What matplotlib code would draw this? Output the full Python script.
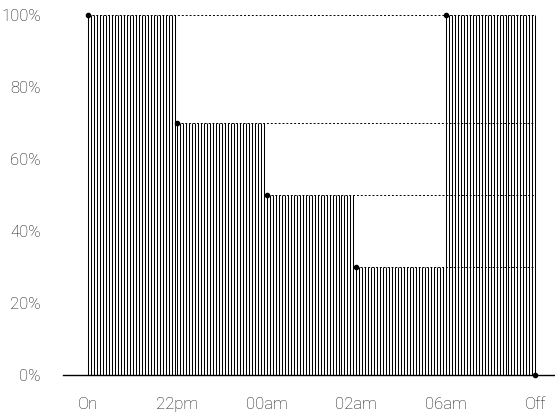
import numpy as np
import matplotlib.pyplot as plt

plt.rcParams['font.family'] = ['Roboto', 'DejaVu Sans']

labels = ["On", "22pm", "00am", "02am", "06am", "Off"]
levels = [100, 70, 50, 30, 100, 0]
yticks = [0, 20, 40, 60, 80, 100]

fig = plt.figure(figsize=(5.55, 4.17), dpi=100)
ax = fig.add_axes([0.1135, 0.1007, 0.8865, 0.8633])

x = np.arange(len(labels))

# vertical hatching under the step curve
xs = np.linspace(0, len(labels) - 1, 30 * (len(labels) - 1) + 1)
idx = np.minimum(np.floor(xs + 1e-9).astype(int), len(labels) - 2)
hs = np.array(levels)[idx]
ax.vlines(xs, 0, hs, colors="black", linewidth=0.75)

# dotted guides from each point to the right end
for i in range(len(labels) - 1):
    ax.plot([x[i], x[-1]], [levels[i], levels[i]], ls=(0, (2, 2)),
            color="black", lw=0.7)

ax.plot(x, levels, "o", color="black", ms=3, ls="none", clip_on=False, zorder=5)

ax.set_xlim(-0.28, 5.22)
ax.set_ylim(0, 100)
ax.set_xticks(x)
ax.set_xticklabels(labels, fontweight="light")
ax.set_yticks(yticks)
ax.set_yticklabels([f"{v}%" for v in yticks], fontweight="light")
ax.tick_params(axis="both", length=0, labelsize=12, colors="#111111")
ax.tick_params(axis="y", pad=16)
ax.tick_params(axis="x", pad=15.5)
for s in ["top", "right", "left"]:
    ax.spines[s].set_visible(False)
ax.spines["bottom"].set_linewidth(1)

plt.savefig("out.png", dpi=100)
